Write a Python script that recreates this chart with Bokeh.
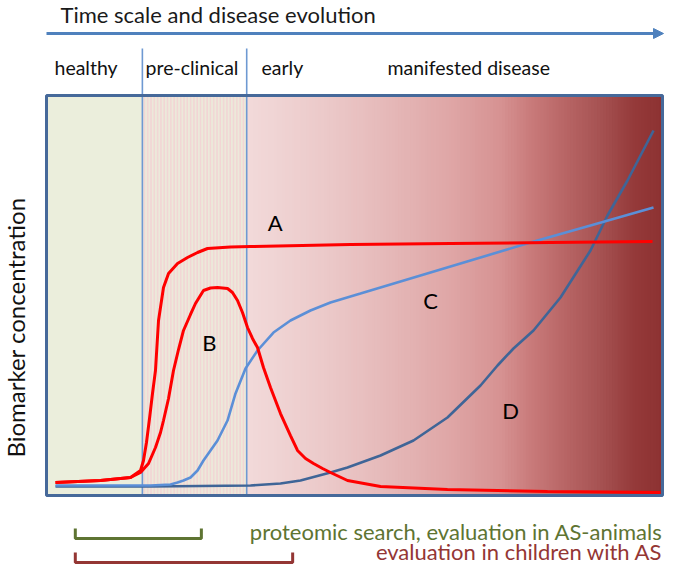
import numpy as np
from bokeh.plotting import figure
from bokeh.models import Range1d, Arrow, NormalHead
from bokeh.core.properties import value
from bokeh.embed import file_html
from bokeh.resources import INLINE

# ---------------- data (time: 0-100, concentration: 0-100) ----------------
phase_names = ["healthy", "pre-clinical", "early", "manifested disease"]
phase_bounds = [15.6, 32.4]          # healthy | pre-clinical | early...

curve_names = ["A", "B", "C", "D"]

a_t = [1.61, 8.86, 13.69, 15.30, 15.78, 16.26, 16.75, 17.23, 17.71, 18.20, 19.00, 19.81,
       21.26, 22.87, 24.48, 26.09, 29.79, 33.01, 49.11, 65.22, 81.32, 97.75]
a_c = [3.02, 3.52, 4.27, 6.03, 8.54, 13.07, 19.10, 25.38, 31.16, 43.72, 52.01, 55.53,
       58.04, 59.55, 60.80, 61.81, 62.19, 62.31, 62.81, 63.07, 63.32, 63.57]

b_t = [1.61, 8.86, 13.69, 15.30, 16.59, 17.71, 18.52, 19.00, 19.81, 20.61, 21.42, 22.22,
       23.35, 24.15, 25.44, 26.57, 27.70, 29.31, 30.11, 30.92, 31.72, 32.53, 33.33, 34.14,
       35.10, 36.23, 37.84, 39.45, 40.58, 41.87, 43.16, 44.61, 45.89, 48.63, 53.95, 64.73,
       80.84, 99.03]
b_c = [3.02, 3.52, 4.27, 5.53, 7.79, 11.81, 15.58, 18.59, 24.12, 31.16, 36.43, 41.21,
       45.23, 47.99, 51.26, 51.88, 52.01, 51.76, 50.75, 48.74, 45.73, 41.96, 39.20, 36.93,
       31.91, 26.88, 20.35, 14.82, 11.06, 9.05, 7.79, 6.53, 5.53, 3.52, 2.01, 1.26,
       0.75, 0.50]

c_t = [1.61, 16.91, 20.13, 21.26, 22.22, 23.35, 24.48, 25.44, 26.57, 27.70, 29.31, 30.60,
       32.21, 34.14, 36.71, 39.45, 42.67, 45.89, 50.72, 60.39, 70.05, 78.10, 87.76, 97.91]
c_c = [2.26, 2.26, 2.51, 3.02, 3.52, 4.27, 6.03, 8.54, 11.06, 13.57, 18.59, 25.38,
       31.66, 36.18, 40.70, 43.72, 46.23, 48.24, 50.50, 55.03, 59.55, 63.32, 67.59, 72.11]

d_t = [1.61, 16.91, 33.01, 37.84, 41.06, 45.89, 48.63, 53.95, 59.26, 64.73, 70.05, 72.79,
       75.36, 78.58, 82.93, 87.76, 90.50, 93.72, 97.91]
d_c = [2.01, 2.01, 2.26, 2.76, 3.52, 5.53, 6.78, 9.80, 13.57, 19.35, 27.39, 32.41,
       36.68, 41.21, 49.50, 61.31, 70.10, 78.89, 91.46]

# label anchor points of the curves (time, concentration)
curve_label_t = [37.0, 26.4, 62.0, 74.9]
curve_label_c = [68.3, 38.2, 48.7, 21.1]

study_texts = ["proteomic search, evaluation in AS-animals", "evaluation in children with AS"]
study_spans = [(4.8, 25.1), (4.8, 39.8)]

# ---------------- layout helpers (picture pixel -> data units) ----------------
def ux(px):
    return (px - 45) / 6.21

def uy(py):
    return (494 - py) / 3.98

W, H = 664, 568
p = figure(width=W, height=H,
           x_range=Range1d(ux(0), ux(W)), y_range=Range1d(uy(H), uy(0)),
           output_backend="svg", toolbar_location=None,
           x_axis_location=None, y_axis_location=None, min_border=0)
p.grid.visible = False
p.outline_line_color = None
p.background_fill_color = "white"
p.border_fill_color = "white"

FONT = value("Lato")

box_l, box_r, box_t, box_b = ux(46), ux(662), uy(95), uy(495)

# healthy region
p.quad(left=[box_l], right=[phase_bounds[0]], bottom=[box_b], top=[box_t],
       fill_color="#ebeedc", line_color=None)
# pre-clinical striped region
p.quad(left=[phase_bounds[0]], right=[phase_bounds[1]], bottom=[box_b], top=[box_t],
       fill_color="#ece9da", line_color=None,
       hatch_pattern="vertical_line", hatch_color="#f2d5d4", hatch_scale=3.3, hatch_weight=1.7)

# gradient for early / manifested disease
stops_px = [246, 330, 400, 450, 500, 530, 560, 600, 635, 662]
stops_rgb = np.array([(242, 218, 218), (235, 200, 200), (228, 181, 181), (223, 166, 166),
                      (214, 146, 146), (201, 123, 123), (186, 104, 104), (166, 82, 82),
                      (148, 57, 57), (141, 50, 50)], dtype=float)
stops_u = [ux(s) for s in stops_px]
n = 140
edges = np.linspace(phase_bounds[1], box_r, n + 1)
mids = (edges[:-1] + edges[1:]) / 2
cols = []
for m in mids:
    r = np.interp(m, stops_u, stops_rgb[:, 0])
    g = np.interp(m, stops_u, stops_rgb[:, 1])
    b = np.interp(m, stops_u, stops_rgb[:, 2])
    cols.append("#%02x%02x%02x" % (int(round(r)), int(round(g)), int(round(b))))
rights = np.minimum(edges[1:] + 0.3, box_r)
p.quad(left=edges[:-1], right=rights, bottom=box_b, top=box_t,
       fill_color=cols, line_color=None)

# phase dividers
for xb in phase_bounds:
    p.line([xb, xb], [uy(48), box_b], line_color="#6e99d2", line_width=1.6)

# curves
p.line(d_t, d_c, line_color="#3f6597", line_width=2.6)
p.line(c_t, c_c, line_color="#5b8fd7", line_width=2.6)
p.line(b_t, b_c, line_color="#ff0000", line_width=3)
p.line(a_t, a_c, line_color="#ff0000", line_width=3)

# box border
p.quad(left=[box_l], right=[box_r], bottom=[box_b], top=[box_t],
       fill_alpha=0, line_color="#46699a", line_width=3)

# curve labels
p.text(x=curve_label_t, y=curve_label_c, text=curve_names, text_font=FONT,
       text_font_size="22px", text_color="black", text_align="center",
       text_baseline="middle")

# time arrow + title
p.add_layout(Arrow(end=NormalHead(size=10, line_color="#4f81bd", fill_color="#4f81bd"),
                   x_start=ux(46), y_start=uy(33), x_end=ux(663), y_end=uy(33),
                   line_color="#4f81bd", line_width=3))
p.text(x=[ux(60)], y=[uy(14)], text=["Time scale and disease evolution"], text_font=FONT,
       text_font_size="22px", text_color="#1a1a1a", text_align="left",
       text_baseline="middle")

# phase labels
p.text(x=[ux(54), ux(145), ux(261), ux(387)], y=[uy(67)] * 4, text=phase_names,
       text_font=FONT, text_font_size="19.5px", text_color="#111111",
       text_align="left", text_baseline="middle")

# y-axis title
p.text(x=[ux(15)], y=[uy(327)], text=["Biomarker concentration"], text_font=FONT,
       text_font_size="24px", text_color="#111111", angle=np.pi / 2,
       text_align="center", text_baseline="middle")

# study brackets
study_colors = ["#5e7432", "#943634"]
bracket_y = [538, 562]
text_y = [531, 551]
for (s0, s1), col, by, ty, txt in zip(study_spans, study_colors, bracket_y, text_y, study_texts):
    p.line([s0, s0, s1, s1], [uy(by - 10), uy(by), uy(by), uy(by - 10)],
           line_color=col, line_width=3)
    p.text(x=[ux(662)], y=[uy(ty)], text=[txt], text_font=FONT, text_font_size="22px",
           text_color=col, text_align="right", text_baseline="middle")

open("out.html", "w").write(file_html(p, INLINE))
